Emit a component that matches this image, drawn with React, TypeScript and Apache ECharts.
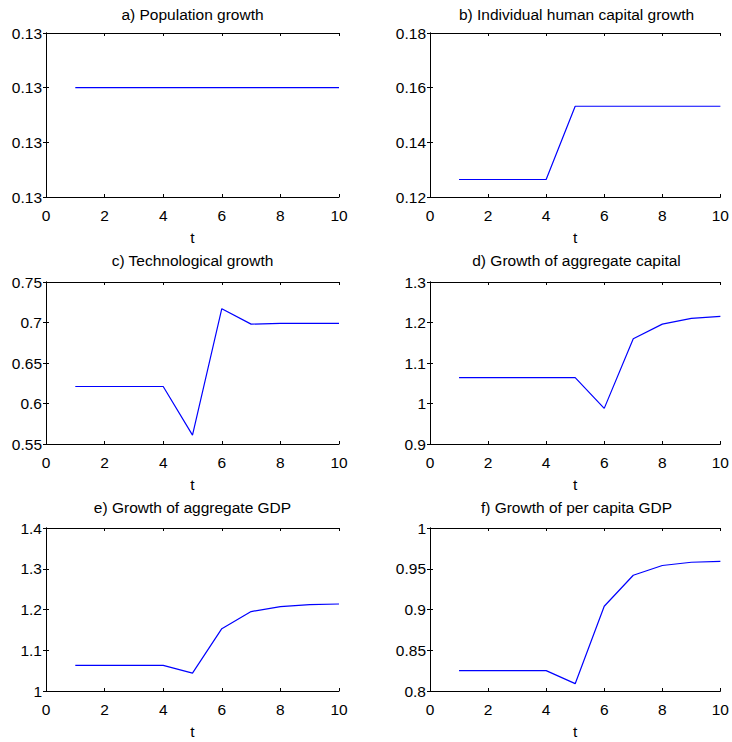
import React, { useEffect, useRef } from "react";
import * as echarts from "echarts";

const t = [1, 2, 3, 4, 5, 6, 7, 8, 9, 10];

const titles = [
  "a) Population growth",
  "b) Individual human capital growth",
  "c) Technological growth",
  "d) Growth of aggregate capital",
  "e) Growth of aggregate GDP",
  "f) Growth of per capita GDP",
];

const popGrowth = [0.13, 0.13, 0.13, 0.13, 0.13, 0.13, 0.13, 0.13, 0.13, 0.13];
const humanCapGrowth = [0.1264, 0.1264, 0.1264, 0.1264, 0.1532, 0.1532, 0.1532, 0.1532, 0.1532, 0.1532];
const techGrowth = [0.621, 0.621, 0.621, 0.621, 0.561, 0.717, 0.698, 0.699, 0.699, 0.699];
const capitalGrowth = [1.064, 1.064, 1.064, 1.064, 1.064, 0.988, 1.16, 1.196, 1.21, 1.215];
const gdpGrowth = [1.063, 1.063, 1.063, 1.063, 1.044, 1.153, 1.195, 1.207, 1.212, 1.2135];
const perCapitaGrowth = [0.825, 0.825, 0.825, 0.825, 0.809, 0.904, 0.942, 0.954, 0.958, 0.959];

const seriesData = [popGrowth, humanCapGrowth, techGrowth, capitalGrowth, gdpGrowth, perCapitaGrowth];

const yMin = [0.1298, 0.12, 0.55, 0.9, 1.0, 0.8];
const yMax = [0.1301, 0.18, 0.75, 1.3, 1.4, 1.0];
const yStep = [0.0001, 0.02, 0.05, 0.1, 0.1, 0.05];

const FONT = "'Liberation Sans', Arial, Helvetica, sans-serif";
const FS = 15.5;

export default function App() {
  const ref = useRef<HTMLDivElement>(null);
  useEffect(() => {
    if (!ref.current) return;
    const chart = echarts.init(ref.current, undefined, { renderer: "svg" });
    const lefts = [46, 430];
    const tops = [33, 282, 528];
    const heights = [164, 162, 163];
    const titleOffsets = [27, 30, 29];
    const width = 293;

    const grids: any[] = [];
    const xAxes: any[] = [];
    const yAxes: any[] = [];
    const series: any[] = [];
    const titleArr: any[] = [];

    const fmtY = (i: number) => (v: number) => {
      if (i === 0) return v.toFixed(2);
      return Number(v.toFixed(4)).toString();
    };

    for (let i = 0; i < 6; i++) {
      const col = i % 2;
      const row = Math.floor(i / 2);
      grids.push({
        left: lefts[col],
        top: tops[row],
        width,
        height: heights[row],
        containLabel: false,
      });
      titleArr.push({
        text: titles[i],
        left: lefts[col] + width / 2,
        top: tops[row] - titleOffsets[row],
        padding: 0,
        textAlign: "center",
        textStyle: { fontFamily: FONT, fontSize: FS, fontWeight: "normal", color: "#000" },
      });
      const axLine = { show: true, lineStyle: { color: "#000", width: 1 } };
      const tick = { show: true, inside: true, length: 3, lineStyle: { color: "#000", width: 1 } };
      xAxes.push({
        type: "value",
        gridIndex: i,
        position: "bottom",
        min: 0,
        max: 10,
        interval: 2,
        axisLine: axLine,
        axisTick: tick,
        splitLine: { show: false },
        axisLabel: { margin: 10, fontFamily: FONT, fontSize: FS, color: "#000" },
        name: "t",
        nameLocation: "middle",
        nameGap: 32,
        nameTextStyle: { fontFamily: FONT, fontSize: FS, color: "#000" },
      });
      xAxes.push({
        type: "value",
        gridIndex: i,
        position: "top",
        min: 0,
        max: 10,
        interval: 2,
        axisLine: axLine,
        axisTick: tick,
        splitLine: { show: false },
        axisLabel: { show: false },
      });
      yAxes.push({
        type: "value",
        gridIndex: i,
        position: "left",
        min: yMin[i],
        max: yMax[i],
        interval: yStep[i],
        axisLine: axLine,
        axisTick: tick,
        splitLine: { show: false },
        axisLabel: { margin: 4, fontFamily: FONT, fontSize: FS, color: "#000", formatter: fmtY(i) },
      });
      yAxes.push({
        type: "value",
        gridIndex: i,
        position: "right",
        min: yMin[i],
        max: yMax[i],
        interval: yStep[i],
        axisLine: axLine,
        axisTick: tick,
        splitLine: { show: false },
        axisLabel: { show: false },
      });
      series.push({
        type: "line",
        xAxisIndex: i * 2,
        yAxisIndex: i * 2,
        data: t.map((x, k) => [x, seriesData[i][k]]),
        symbol: "none",
        lineStyle: { color: "#0000ff", width: 1.2 },
        silent: true,
      });
    }

    chart.setOption({
      animation: false,
      backgroundColor: "#fff",
      title: titleArr,
      grid: grids,
      xAxis: xAxes,
      yAxis: yAxes,
      series,
    });
    return () => chart.dispose();
  }, []);
  return (
    <div
      ref={ref}
      style={{ position: "fixed", left: 0, top: 0, width: 732, height: 742 }}
    />
  );
}
